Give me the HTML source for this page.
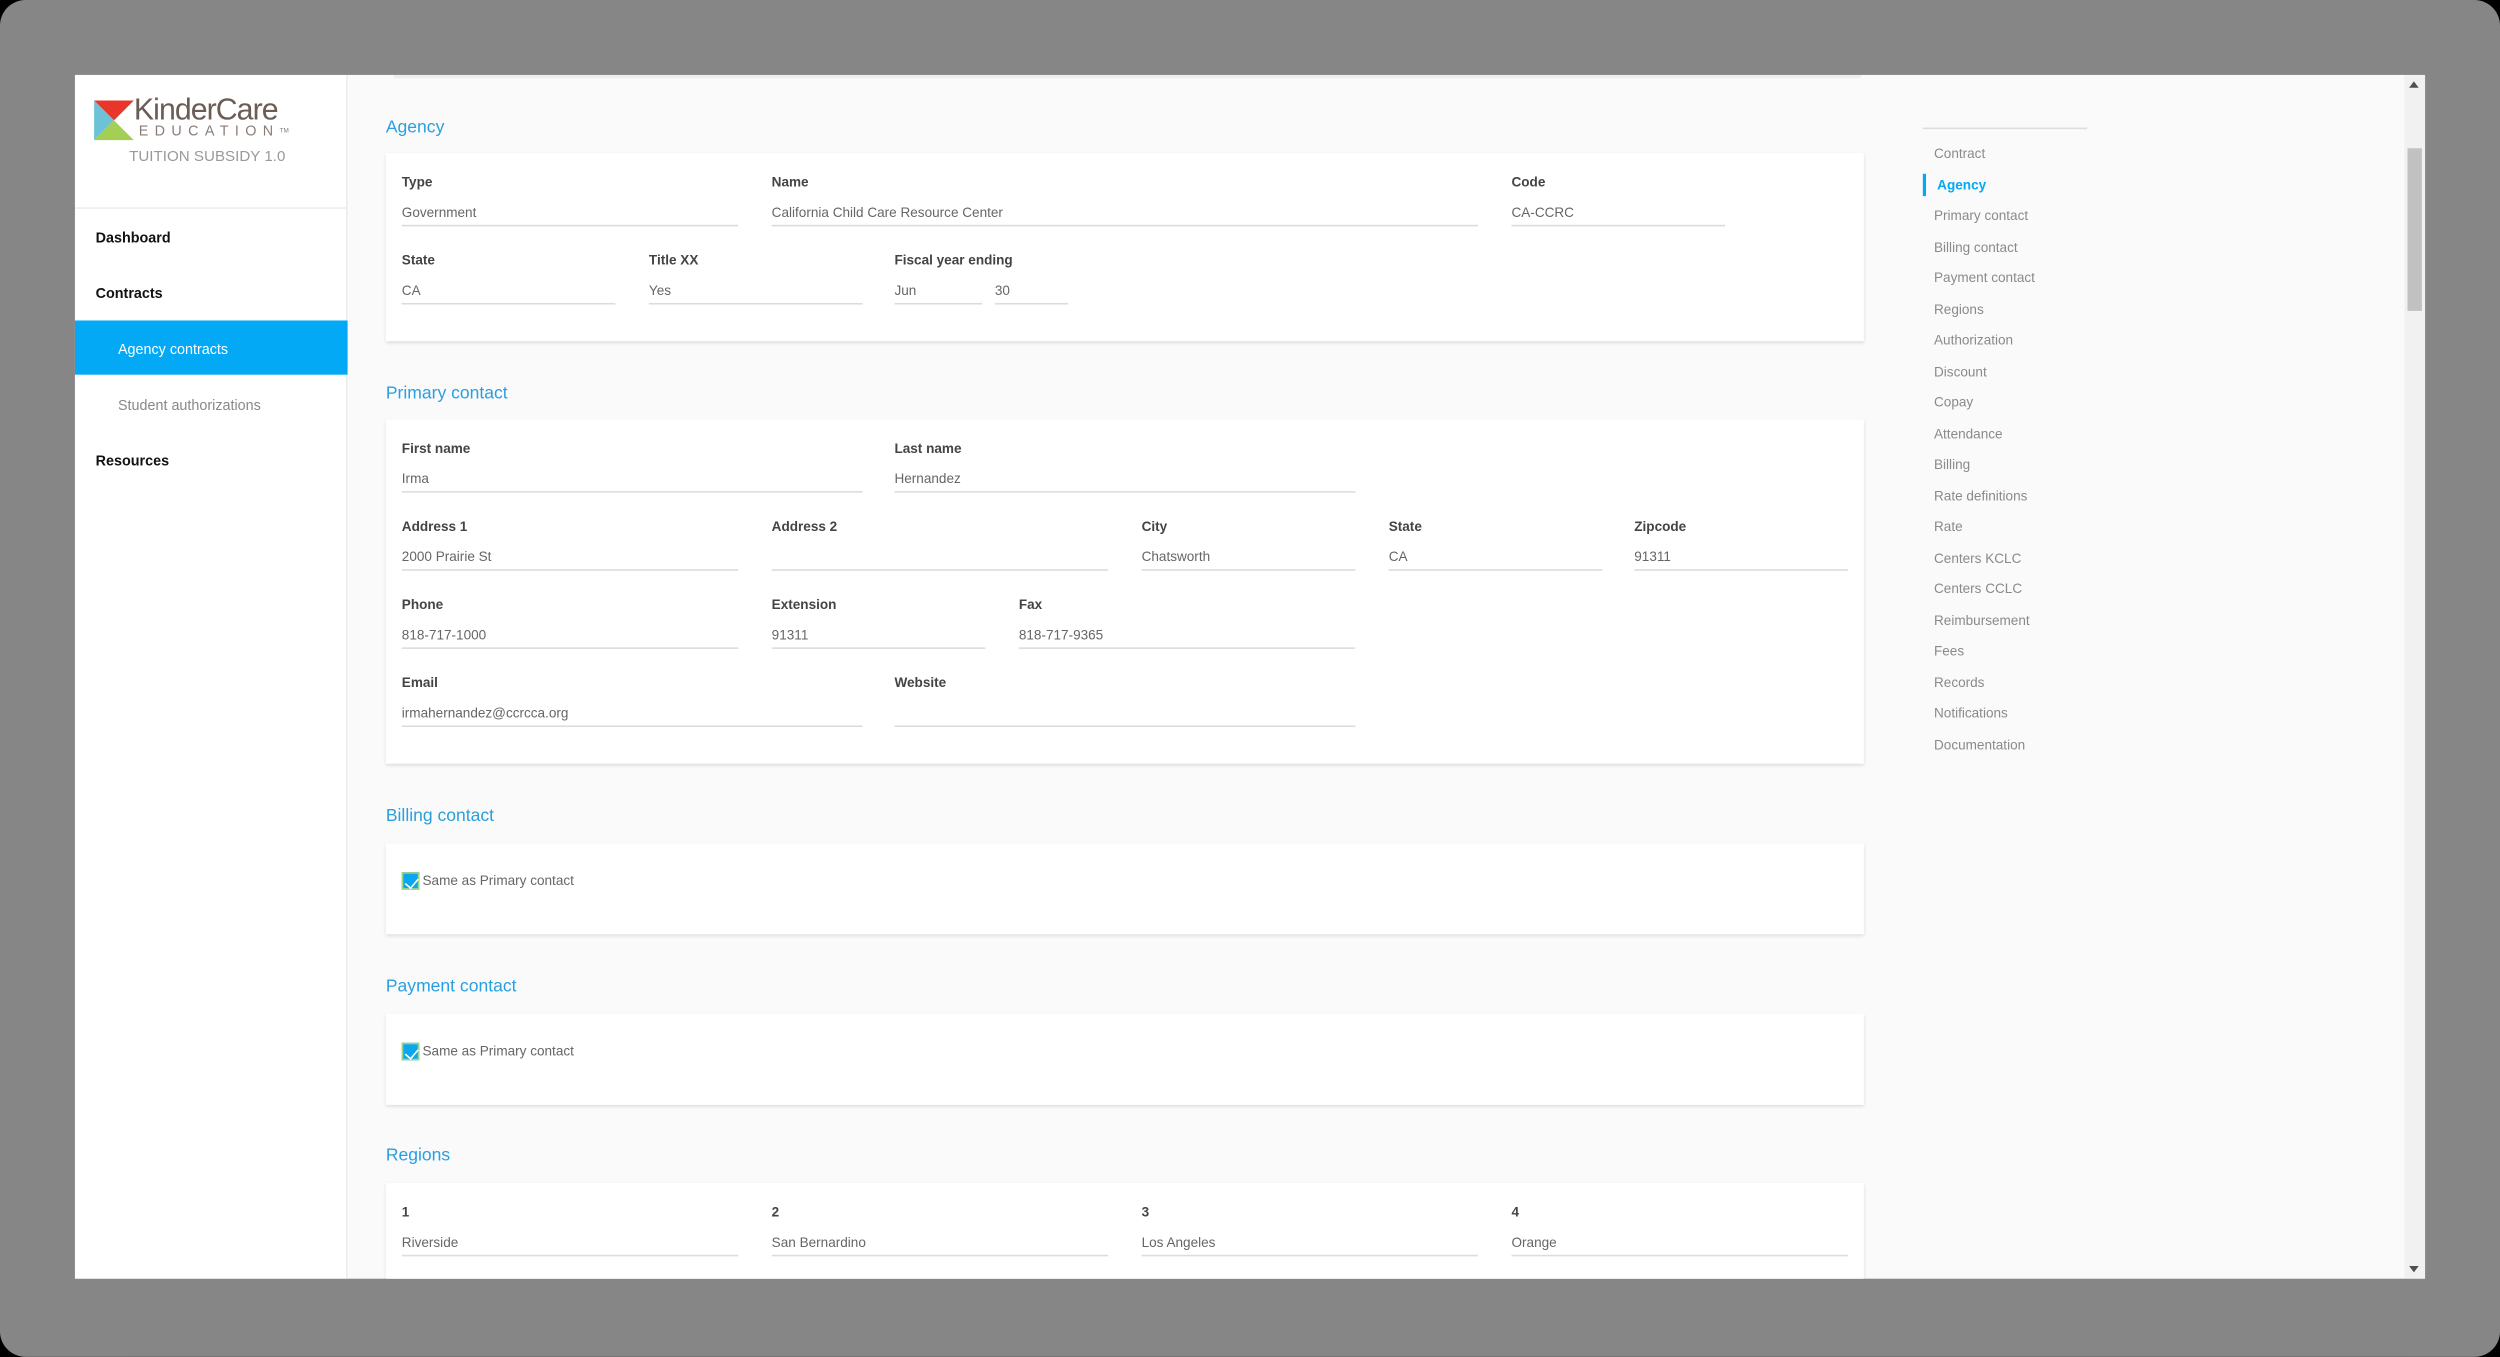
<!DOCTYPE html>
<html><head><meta charset="utf-8"><style>
*{margin:0;padding:0;box-sizing:border-box}
html,body{width:2500px;height:1356px;overflow:hidden;background:#000}
#w{position:absolute;left:0;top:0;width:1568px;height:850.5px;transform:scale(1.59439);transform-origin:0 0;font-family:"Liberation Sans",sans-serif}
#bg{position:absolute;left:0;top:0;width:1568px;height:851px;background:#868686;border-radius:16px}
.a{position:absolute;white-space:nowrap}
#win{position:absolute;left:47px;top:47px;width:1474px;height:755px;background:#fafafa;overflow:hidden}
#side{position:absolute;left:0;top:0;width:171px;height:755px;background:#fff;border-right:1px solid #ececec}
.nav{position:absolute;left:13px;font-size:9px;font-weight:bold;color:#111;line-height:12px;margin-top:1px}
.card{position:absolute;left:195px;width:927px;background:#fff;box-shadow:0 1px 2px rgba(0,0,0,.12)}
.st{position:absolute;left:195px;font-size:11px;color:#2a9fdf;line-height:14px;margin-top:1px}
.lb{position:absolute;font-size:8.5px;font-weight:bold;color:#444;line-height:11px;margin-top:1px}
.vl{position:absolute;font-size:8.5px;color:#666;line-height:11px;margin-top:1px}
.ln{position:absolute;height:1.3px;background:#dcdcdc}
.rn{position:absolute;left:1166px;font-size:8.5px;color:#8a8a8a;line-height:11px;margin-top:1px}
.cb{position:absolute;left:205px;width:11px;height:11px;background:#0ba6ee;border:1px solid #9ad18b}
.cb:after{content:"";position:absolute;left:2.5px;top:0.5px;width:3.5px;height:6.5px;border:solid #fff;border-width:0 1.6px 1.6px 0;transform:rotate(40deg)}
</style></head><body><div id="w"><div id="bg"></div>
<div id="win">
<div id="side">
 <svg class="a" style="left:12px;top:16px" width="25" height="25" viewBox="0 0 24 24"><polygon points="0,0 24,0 12,12" fill="#e8372a"/><polygon points="0,0 12,12 0,24" fill="#6cc3d8"/><polygon points="0,24 12,12 24,24" fill="#a3cf55"/></svg>
 <div class="a" style="left:37px;top:13px;font-size:19px;color:#6b5c55;letter-spacing:-0.6px;line-height:20px">KinderCare</div>
 <div class="a" style="left:40px;top:30px;font-size:9px;color:#8a7d77;letter-spacing:4px;line-height:10px">EDUCATION<span style="font-size:4px;letter-spacing:0;vertical-align:top">TM</span></div>
 <div class="a" style="left:0;width:166px;text-align:center;top:46px;font-size:9.5px;color:#999;line-height:12px">TUITION SUBSIDY 1.0</div>
 <div class="a" style="left:0;top:83px;width:171px;height:1px;background:#eee"></div>
 <div class="nav" style="top:95px">Dashboard</div>
 <div class="nav" style="top:130px">Contracts</div>
 <div class="a" style="left:0;top:154px;width:171px;height:34px;background:#03a9f4"></div>
 <div class="a" style="left:27px;top:166px;font-size:9px;color:#fff;line-height:12px">Agency contracts</div>
 <div class="a" style="left:27px;top:201px;font-size:9px;color:#888;line-height:12px">Student authorizations</div>
 <div class="nav" style="top:235px">Resources</div>
</div>
<div class="a" style="left:200px;top:0;width:920px;height:2px;background:#eee"></div>

<div class="st" style="top:25px">Agency</div>
<div class="card" style="top:49px;height:118px"></div>
<div class="lb" style="left:205px;top:61px">Type</div><div class="vl" style="left:205px;top:80px">Government</div><div class="ln" style="left:205px;top:94px;width:211px"></div>
<div class="lb" style="left:437px;top:61px">Name</div><div class="vl" style="left:437px;top:80px">California Child Care Resource Center</div><div class="ln" style="left:437px;top:94px;width:443px"></div>
<div class="lb" style="left:901px;top:61px">Code</div><div class="vl" style="left:901px;top:80px">CA-CCRC</div><div class="ln" style="left:901px;top:94px;width:134px"></div>
<div class="lb" style="left:205px;top:110px">State</div><div class="vl" style="left:205px;top:129px">CA</div><div class="ln" style="left:205px;top:143px;width:134px"></div>
<div class="lb" style="left:360px;top:110px">Title XX</div><div class="vl" style="left:360px;top:129px">Yes</div><div class="ln" style="left:360px;top:143px;width:134px"></div>
<div class="lb" style="left:514px;top:110px">Fiscal year ending</div><div class="vl" style="left:514px;top:129px">Jun</div><div class="ln" style="left:514px;top:143px;width:55px"></div>
<div class="vl" style="left:577px;top:129px">30</div><div class="ln" style="left:577px;top:143px;width:46px"></div>

<div class="st" style="top:192px">Primary contact</div>
<div class="card" style="top:216px;height:216px"></div>
<div class="lb" style="left:205px;top:228px">First name</div><div class="vl" style="left:205px;top:247px">Irma</div><div class="ln" style="left:205px;top:261px;width:289px"></div>
<div class="lb" style="left:514px;top:228px">Last name</div><div class="vl" style="left:514px;top:247px">Hernandez</div><div class="ln" style="left:514px;top:261px;width:289px"></div>
<div class="lb" style="left:205px;top:277px">Address 1</div><div class="vl" style="left:205px;top:296px">2000 Prairie St</div><div class="ln" style="left:205px;top:310px;width:211px"></div>
<div class="lb" style="left:437px;top:277px">Address 2</div><div class="ln" style="left:437px;top:310px;width:211px"></div>
<div class="lb" style="left:669px;top:277px">City</div><div class="vl" style="left:669px;top:296px">Chatsworth</div><div class="ln" style="left:669px;top:310px;width:134px"></div>
<div class="lb" style="left:824px;top:277px">State</div><div class="vl" style="left:824px;top:296px">CA</div><div class="ln" style="left:824px;top:310px;width:134px"></div>
<div class="lb" style="left:978px;top:277px">Zipcode</div><div class="vl" style="left:978px;top:296px">91311</div><div class="ln" style="left:978px;top:310px;width:134px"></div>
<div class="lb" style="left:205px;top:326px">Phone</div><div class="vl" style="left:205px;top:345px">818-717-1000</div><div class="ln" style="left:205px;top:359px;width:211px"></div>
<div class="lb" style="left:437px;top:326px">Extension</div><div class="vl" style="left:437px;top:345px">91311</div><div class="ln" style="left:437px;top:359px;width:134px"></div>
<div class="lb" style="left:592px;top:326px">Fax</div><div class="vl" style="left:592px;top:345px">818-717-9365</div><div class="ln" style="left:592px;top:359px;width:211px"></div>
<div class="lb" style="left:205px;top:375px">Email</div><div class="vl" style="left:205px;top:394px">irmahernandez@ccrcca.org</div><div class="ln" style="left:205px;top:408px;width:289px"></div>
<div class="lb" style="left:514px;top:375px">Website</div><div class="ln" style="left:514px;top:408px;width:289px"></div>

<div class="st" style="top:457px">Billing contact</div>
<div class="card" style="top:482px;height:57px"></div>
<div class="cb" style="top:500px"></div><div class="vl" style="left:218px;top:499px">Same as Primary contact</div>

<div class="st" style="top:564px">Payment contact</div>
<div class="card" style="top:589px;height:57px"></div>
<div class="cb" style="top:607px"></div><div class="vl" style="left:218px;top:606px">Same as Primary contact</div>

<div class="st" style="top:670px">Regions</div>
<div class="card" style="top:695px;height:80px"></div>
<div class="lb" style="left:205px;top:707px">1</div><div class="vl" style="left:205px;top:726px">Riverside</div><div class="ln" style="left:205px;top:740px;width:211px"></div>
<div class="lb" style="left:437px;top:707px">2</div><div class="vl" style="left:437px;top:726px">San Bernardino</div><div class="ln" style="left:437px;top:740px;width:211px"></div>
<div class="lb" style="left:669px;top:707px">3</div><div class="vl" style="left:669px;top:726px">Los Angeles</div><div class="ln" style="left:669px;top:740px;width:211px"></div>
<div class="lb" style="left:901px;top:707px">4</div><div class="vl" style="left:901px;top:726px">Orange</div><div class="ln" style="left:901px;top:740px;width:211px"></div>

<div class="a" style="left:1159px;top:33px;width:103px;height:1px;background:#ddd"></div>
<div class="rn" style="top:43px">Contract</div>
<div class="a" style="left:1159px;top:62px;width:2px;height:14px;background:#03a9f4"></div>
<div class="rn" style="top:63px;left:1168px;color:#03a9f4;font-weight:bold">Agency</div>
<div class="rn" style="top:82px">Primary contact</div>
<div class="rn" style="top:102px">Billing contact</div>
<div class="rn" style="top:121px">Payment contact</div>
<div class="rn" style="top:141px">Regions</div>
<div class="rn" style="top:160px">Authorization</div>
<div class="rn" style="top:180px">Discount</div>
<div class="rn" style="top:199px">Copay</div>
<div class="rn" style="top:219px">Attendance</div>
<div class="rn" style="top:238px">Billing</div>
<div class="rn" style="top:258px">Rate definitions</div>
<div class="rn" style="top:277px">Rate</div>
<div class="rn" style="top:297px">Centers KCLC</div>
<div class="rn" style="top:316px">Centers CCLC</div>
<div class="rn" style="top:336px">Reimbursement</div>
<div class="rn" style="top:355px">Fees</div>
<div class="rn" style="top:375px">Records</div>
<div class="rn" style="top:394px">Notifications</div>
<div class="rn" style="top:414px">Documentation</div>

<div class="a" style="left:1461px;top:0;width:13px;height:755px;background:#f1f1f1"></div>
<div class="a" style="left:1463px;top:46px;width:9px;height:102px;background:#c1c1c1"></div>
<div class="a" style="left:1464px;top:4px;width:0;height:0;border-left:3px solid transparent;border-right:3px solid transparent;border-bottom:4px solid #505050"></div>
<div class="a" style="left:1464px;top:747px;width:0;height:0;border-left:3px solid transparent;border-right:3px solid transparent;border-top:4px solid #505050"></div>
</div>
</div></body></html>
